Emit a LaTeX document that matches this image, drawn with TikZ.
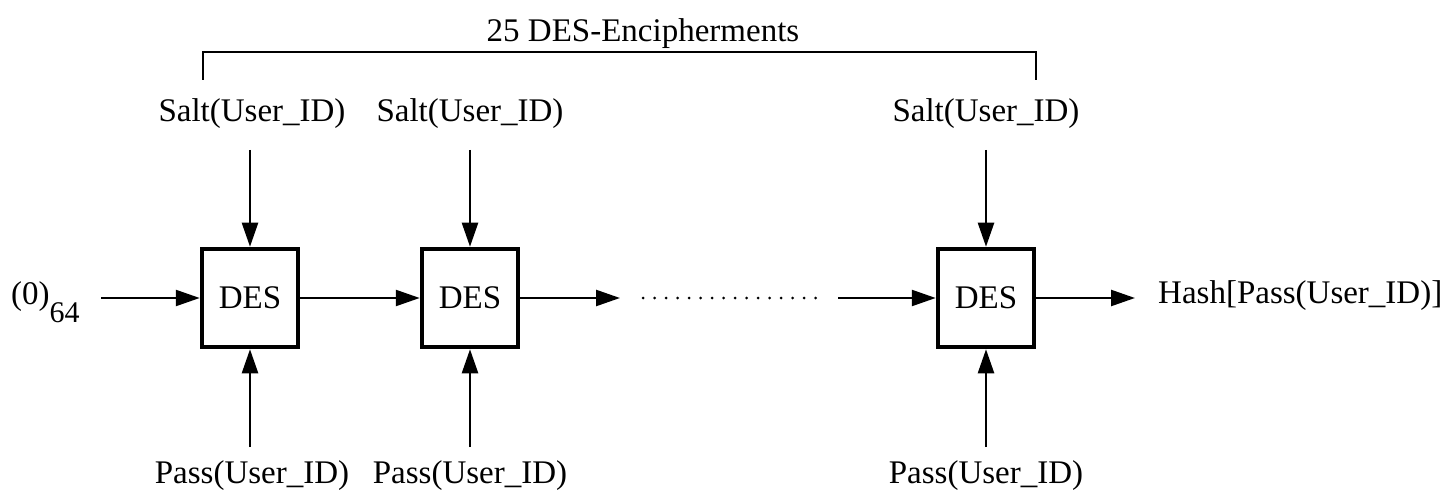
\documentclass[tikz,border=0pt]{standalone}
\usepackage{fontspec}
\setmainfont{Liberation Serif}
\newfontfamily\timesfam{Liberation Serif}
\usetikzlibrary{arrows.meta}

\tikzset{
  lbl/.style={font=\timesfam\fontsize{33}{40}\selectfont, inner sep=0pt, anchor=base},
  desbox/.style={draw, line width=4.5pt, minimum width=96pt, minimum height=98pt,
                 inner sep=0pt, font=\timesfam\fontsize{33}{40}\selectfont},
  arr/.style={line width=2.4pt, -{Triangle[length=24pt,width=16pt]}},
  brace/.style={line width=2.4pt},
  dots/.style={line width=3pt, line cap=round, dash pattern=on 0pt off 11.5pt}
}

\begin{document}
\begin{tikzpicture}[x=1pt,y=-1pt]
  \useasboundingbox (0,0) rectangle (1453,494);

  % cipher stages
  \node[desbox] (b1) at (250,298) {DES};
  \node[desbox] (b2) at (470,298) {DES};
  \node[desbox] (b3) at (986,298) {DES};

  % labels
  \node[lbl] (count) at (643,42) {25 DES-Encipherments};
  \node[lbl] (s1) at (252,122) {Salt(User\_ID)};
  \node[lbl] (s2) at (470,122) {Salt(User\_ID)};
  \node[lbl] (s3) at (986,122) {Salt(User\_ID)};
  \node[lbl] (p1) at (252,483) {Pass(User\_ID)};
  \node[lbl] (p2) at (470,483) {Pass(User\_ID)};
  \node[lbl] (p3) at (986,483) {Pass(User\_ID)};
  \node[lbl, anchor=base west] (init) at (11,304)
       {(0)\raisebox{-18pt}{\fontsize{30}{36}\selectfont 64}};
  \node[lbl, anchor=base west] (hash) at (1158,303) {Hash[Pass(User\_ID)]};

  % connector end points
  \coordinate (in0) at (101,298);
  \coordinate (mid) at (620,298);
  \coordinate (resume) at (838,298);
  \coordinate (out) at (1135,298);
  \coordinate (dotA) at (643,298);
  \coordinate (dotB) at (818,298);
  \coordinate (st1) at (250,150);
  \coordinate (st2) at (470,150);
  \coordinate (st3) at (986,150);
  \coordinate (pt1) at (250,447);
  \coordinate (pt2) at (470,447);
  \coordinate (pt3) at (986,447);
  \coordinate (brL) at (203,80);
  \coordinate (brR) at (1036,80);

  % bracket over the chain
  \draw[brace] (brL) -- (203,52) -- (1036,52) -- (brR);

  % data path
  \draw[arr] (in0) -- (b1.west);
  \draw[arr] (b1.east) -- (b2.west);
  \draw[arr] (b2.east) -- (mid);
  \draw[dots] (dotA) -- (dotB);
  \draw[arr] (resume) -- (b3.west);
  \draw[arr] (b3.east) -- (out);

  % salt inputs
  \draw[arr] (st1) -- (b1.north);
  \draw[arr] (st2) -- (b2.north);
  \draw[arr] (st3) -- (b3.north);

  % password inputs
  \draw[arr] (pt1) -- (b1.south);
  \draw[arr] (pt2) -- (b2.south);
  \draw[arr] (pt3) -- (b3.south);
\end{tikzpicture}
\end{document}
